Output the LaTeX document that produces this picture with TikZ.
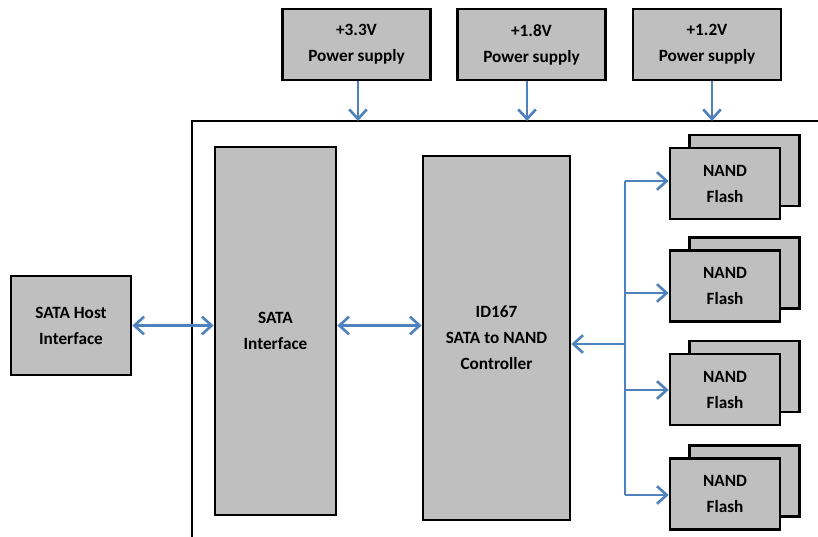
\documentclass[tikz,border=0pt]{standalone}
\usepackage{fontspec}
\setmainfont{Carlito}
\usetikzlibrary{arrows.meta}
\definecolor{linkblue}{HTML}{4F81BD}
\def\boxline{1.6pt}

\begin{document}
\begin{tikzpicture}[x=0.02cm,y=-0.02cm,>={Straight Barb[length=5.5pt,width=10pt]}]
    \tikzstyle{block}=[draw=black,line width=\boxline,fill=black!25,align=center,inner sep=0pt,font=\bfseries\fontsize{9.8}{14.8}\selectfont]
    \tikzstyle{supply}=[block,minimum width=2.96cm,minimum height=1.42cm]
    \tikzstyle{flash}=[block,minimum width=2.2cm,minimum height=1.42cm]
    \tikzstyle{link}=[draw=linkblue,line width=1.5pt]

    \useasboundingbox (0,0) rectangle (818,537);

    % Board outline (cut by the page edge)
    \draw[line width=\boxline] (192,537) |- (818,121);

    % Power supplies on top of the board
    \foreach \name/\x/\v in {1/356.5/+3.3V,2/531.5/+1.8V,3/707/+1.2V}
        \node[supply] (P-\name) at (\x,44.5) {\v\\Power supply};
    \foreach \name/\x in {1/358,2/527,3/712} {
        \coordinate (top-\name) at (\x,121);
        \draw[link,->] (P-\name.south -| top-\name) -- (top-\name);
    }

    % Host side and the two main blocks
    \node[block,minimum width=2.4cm,minimum height=1.98cm] (H) at (71,325.5) {SATA Host\\Interface};
    \node[block,minimum width=2.42cm,minimum height=7.36cm] (S) at (275.5,331) {SATA\\Interface};
    \node[block,minimum width=2.94cm,minimum height=7.28cm] (C) at (496.5,338) {ID167\\SATA to NAND\\Controller};

    \draw[link,<->] (H.east) -- (S.west |- H.east);
    \draw[link,<->] (S.east |- H.east) -- (C.west |- H.east);

    % NAND flash stacks
    \foreach \name/\y in {1/183.5,2/286,3/389.5,4/494} {
        \node[flash] (B-\name) at (744.5,\y-13) {};
        \node[flash] (N-\name) at (725,\y) {NAND\\Flash};
    }

    % Flash bus
    \foreach \name/\y in {1/181,2/293,3/390,4/495} {
        \coordinate (b-\name) at (625,\y);
        \draw[link,->] (b-\name) -- (N-\name.west |- b-\name);
    }
    \draw[link] (b-1) -- (b-4);
    \coordinate (bus) at (625,344);
    \draw[link,->] (bus) -- (C.east |- bus);
\end{tikzpicture}
\end{document}
